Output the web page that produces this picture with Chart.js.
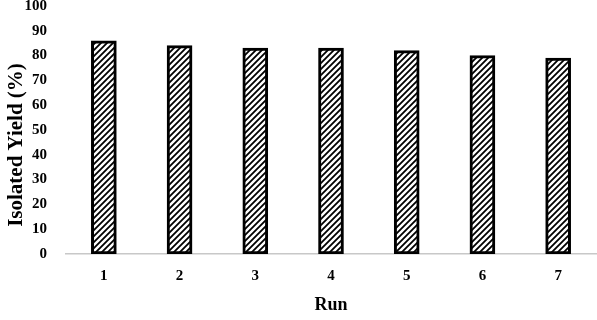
<!DOCTYPE html>
<html>
<head>
<meta charset="utf-8">
<script src="https://cdn.jsdelivr.net/npm/chart.js@4/dist/chart.umd.min.js"></script>
<style>
  html, body { margin: 0; padding: 0; background: #fff; }
  #wrap { width: 597px; height: 320px; }
</style>
</head>
<body>
<div id="wrap"><canvas id="yieldChart"></canvas></div>
<script>
// Data
const runs = ["1", "2", "3", "4", "5", "6", "7"];
const yields = [86, 84, 83, 83, 82, 80, 79];
const yTicks = [0, 10, 20, 30, 40, 50, 60, 70, 80, 90, 100];

// Diagonal hatch fill ("/" lines)
function makeHatch() {
  const size = 6;
  const c = document.createElement("canvas");
  c.width = size;
  c.height = size;
  const ctx = c.getContext("2d");
  ctx.fillStyle = "#fff";
  ctx.fillRect(0, 0, size, size);
  ctx.strokeStyle = "#000";
  ctx.lineWidth = 1.8;
  ctx.beginPath();
  ctx.moveTo(-1, size + 1);
  ctx.lineTo(size + 1, -1);
  ctx.moveTo(-1, 1);
  ctx.lineTo(1, -1);
  ctx.moveTo(size - 1, size + 1);
  ctx.lineTo(size + 1, size - 1);
  ctx.stroke();
  return document.getElementById("yieldChart").getContext("2d").createPattern(c, "repeat");
}

const serif = "'Liberation Serif', 'Times New Roman', serif";

// y axis title, placed a bit below the plot's middle like the original
const yTitle = {
  id: "yTitle",
  afterDraw(chart) {
    const ctx = chart.ctx;
    ctx.save();
    ctx.translate(17, 145);
    ctx.rotate(-Math.PI / 2);
    ctx.font = "bold 21px " + serif;
    ctx.fillStyle = "#000";
    ctx.textAlign = "center";
    ctx.textBaseline = "middle";
    ctx.fillText("Isolated Yield (%)", 0, 0);
    ctx.restore();
  },
};

new Chart(document.getElementById("yieldChart"), {
  type: "bar",
  data: {
    labels: runs,
    datasets: [
      {
        data: yields,
        backgroundColor: makeHatch(),
        borderColor: "#000",
        borderWidth: 3,
        borderSkipped: false,
        barThickness: 25,
      },
    ],
  },
  options: {
    responsive: true,
    maintainAspectRatio: false,
    animation: false,
    layout: { padding: { top: 6, right: 1, left: 0, bottom: 0 } },
    plugins: { legend: { display: false }, tooltip: { enabled: false } },
    scales: {
      x: {
        grid: { display: false },
        border: { display: true, color: "#c8c8c8", width: 1.5 },
        ticks: {
          color: "#000",
          font: { family: serif, size: 15, weight: "bold" },
          padding: 5,
        },
        title: {
          display: true,
          text: "Run",
          color: "#000",
          font: { family: serif, size: 18, weight: "bold" },
          padding: { top: 11 },
        },
        afterFit: (s) => { s.height = 66; },
      },
      y: {
        min: 0,
        max: 100,
        afterBuildTicks: (s) => { s.ticks = yTicks.map((v) => ({ value: v })); },
        grid: { display: false },
        border: { display: false },
        ticks: {
          color: "#000",
          font: { family: serif, size: 15, weight: "bold" },
          padding: 11,
        },
        afterFit: (s) => { s.width = 66; s.paddingTop = 0; },
      },
    },
  },
  plugins: [yTitle],
});
</script>
</body>
</html>
